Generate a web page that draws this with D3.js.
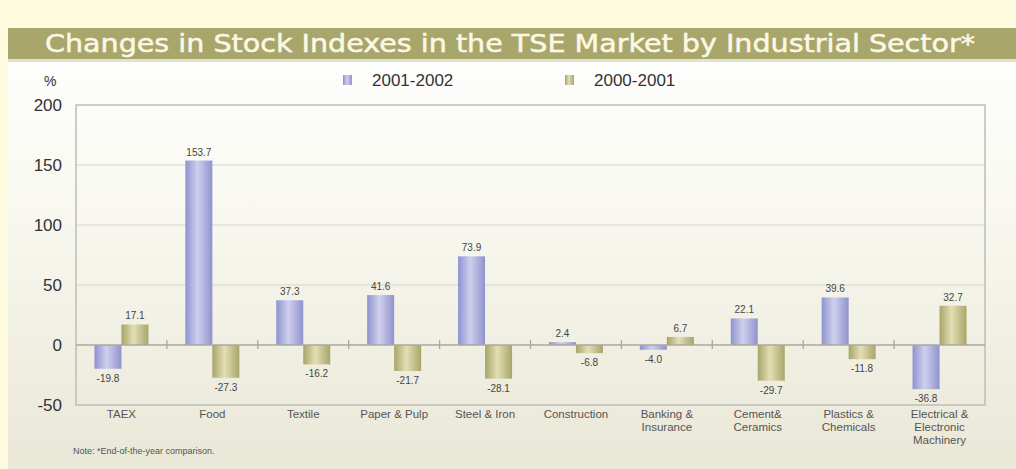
<!DOCTYPE html>
<html><head><meta charset="utf-8">
<script src="https://cdn.jsdelivr.net/npm/d3@7"></script>
<style>
body{margin:0;background:#fffbdf;}
svg{display:block;}
</style></head>
<body>
<svg id="chart" width="1016" height="469"></svg>
<script>
const categories = [["TAEX"],["Food"],["Textile"],["Paper & Pulp"],["Steel & Iron"],["Construction"],["Banking &","Insurance"],["Cement&","Ceramics"],["Plastics &","Chemicals"],["Electrical &","Electronic","Machinery"]];
const series2001_2002 = [-19.8,153.7,37.3,41.6,73.9,2.4,-4.0,22.1,39.6,-36.8];
const series2000_2001 = [17.1,-27.3,-16.2,-21.7,-28.1,-6.8,6.7,-29.7,-11.8,32.7];
const seriesNames = ["2001-2002","2000-2001"];
const yTicks = [-50,0,50,100,150,200];

const svg = d3.select("#chart");
const defs = svg.append("defs");

const pg = defs.append("linearGradient").attr("id","panel").attr("x1",0).attr("y1",0).attr("x2",0).attr("y2",1);
pg.append("stop").attr("offset","0%").attr("stop-color","#ffffff");
pg.append("stop").attr("offset","45%").attr("stop-color","#f8f7ef");
pg.append("stop").attr("offset","100%").attr("stop-color","#e9e7d6");

const bg = defs.append("linearGradient").attr("id","gBlue").attr("x1",0).attr("x2",1).attr("y1",0).attr("y2",0);
bg.append("stop").attr("offset","0%").attr("stop-color","#8e92cf");
bg.append("stop").attr("offset","45%").attr("stop-color","#cfd0ee");
bg.append("stop").attr("offset","100%").attr("stop-color","#8f93cc");
const og = defs.append("linearGradient").attr("id","gOlive").attr("x1",0).attr("x2",1).attr("y1",0).attr("y2",0);
og.append("stop").attr("offset","0%").attr("stop-color","#a8a468");
og.append("stop").attr("offset","45%").attr("stop-color","#e2dfb5");
og.append("stop").attr("offset","100%").attr("stop-color","#a9a56a");

svg.append("rect").attr("x",8).attr("y",28).attr("width",1008).attr("height",441).attr("fill","url(#panel)");
svg.append("rect").attr("x",8).attr("y",28).attr("width",1008).attr("height",31).attr("fill","#a9a66c");
svg.append("rect").attr("x",8).attr("y",59).attr("width",1008).attr("height",3).attr("fill","#e4e2cc");
svg.append("text").attr("x",45).attr("y",52)
  .attr("textLength",930).attr("lengthAdjust","spacingAndGlyphs")
  .attr("font-family","'DejaVu Sans', sans-serif").attr("font-size",24).attr("font-weight","normal")
  .attr("fill","#fbf8e4").attr("stroke","#fbf8e4").attr("stroke-width",0.5)
  .text("Changes in Stock Indexes  in the TSE Market by Industrial Sector*");

const margin = {left:76, right:985, top:105, bottom:405};
const x = d3.scaleBand().domain(d3.range(categories.length)).range([margin.left, margin.right]).paddingInner(0).paddingOuter(0);
const y = d3.scaleLinear().domain([-50,200]).range([margin.bottom, margin.top]);

const g = svg.append("g");
g.selectAll("line.grid").data(yTicks.filter(d=>d!==0 && d!==-50 && d!==200)).enter().append("line")
  .attr("x1",margin.left).attr("x2",margin.right).attr("y1",d=>y(d)).attr("y2",d=>y(d))
  .attr("stroke","#d6d6d0").attr("stroke-width",1.2);
g.append("rect").attr("x",margin.left).attr("y",margin.top).attr("width",margin.right-margin.left).attr("height",margin.bottom-margin.top)
  .attr("fill","none").attr("stroke","#bdbdb8").attr("stroke-width",1.5);

const yAxis = d3.axisLeft(y).tickValues(yTicks).tickSize(0).tickPadding(14).tickFormat(d=>String(d));
const ya = svg.append("g").attr("transform",`translate(${margin.left},0)`).call(yAxis);
ya.select(".domain").remove();
ya.selectAll("text").attr("font-family","'Liberation Sans', Arial, sans-serif").attr("font-size",17).attr("fill","#333");

svg.append("text").attr("x",44).attr("y",86).attr("font-family","'Liberation Sans', Arial, sans-serif").attr("font-size",14).attr("fill","#333").text("%");

const bw = 27;
const data = [];
categories.forEach((c,i)=>{
  data.push({i, s:0, v:series2001_2002[i]});
  data.push({i, s:1, v:series2000_2001[i]});
});
g.selectAll("rect.bar").data(data).enter().append("rect")
  .attr("x",d=>x(d.i)+x.bandwidth()/2 + (d.s===0?-bw:0))
  .attr("width",bw)
  .attr("y",d=>y(Math.max(0,d.v)))
  .attr("height",d=>Math.abs(y(d.v)-y(0)))
  .attr("fill",d=>d.s===0?"url(#gBlue)":"url(#gOlive)");

g.append("line").attr("x1",margin.left).attr("x2",margin.right).attr("y1",y(0)).attr("y2",y(0)).attr("stroke","#a8a8a0").attr("stroke-width",1.3);
g.selectAll("line.ctick").data(d3.range(1,categories.length)).enter().append("line")
  .attr("x1",d=>x(d)).attr("x2",d=>x(d)).attr("y1",y(0)-5).attr("y2",y(0)+4).attr("stroke","#a8a8a0").attr("stroke-width",1.3);

g.selectAll("text.val").data(data).enter().append("text")
  .attr("x",d=>x(d.i)+x.bandwidth()/2 + (d.s===0?-bw/2:bw/2))
  .attr("y",d=>d.v>=0? y(d.v)-5 : y(d.v)+13)
  .attr("text-anchor","middle").attr("font-family","'Liberation Sans', Arial, sans-serif").attr("font-size",10).attr("fill","#444")
  .text(d=>d.v.toFixed(1));

const cl = svg.append("g").selectAll("text").data(categories).enter().append("text")
  .attr("x",(d,i)=>x(i)+x.bandwidth()/2).attr("y",418).attr("text-anchor","middle")
  .attr("font-family","'Liberation Sans', Arial, sans-serif").attr("font-size",11.5).attr("fill","#555");
cl.selectAll("tspan").data(d=>d).enter().append("tspan")
  .attr("x",function(){return this.parentNode.getAttribute("x");}).attr("dy",(d,j)=>j===0?0:13).text(d=>d);

const legend = svg.append("g");
const lx = [343, 565];
seriesNames.forEach((n,k)=>{
  legend.append("rect").attr("x",lx[k]).attr("y",75).attr("width",9).attr("height",10).attr("fill",k===0?"url(#gBlue)":"url(#gOlive)");
  legend.append("text").attr("x",lx[k]+29).attr("y",86).attr("font-family","'Liberation Sans', Arial, sans-serif").attr("font-size",17).attr("fill","#333").text(n);
});

svg.append("text").attr("x",73).attr("y",454).attr("font-family","'Liberation Sans', Arial, sans-serif").attr("font-size",9).attr("fill","#555").text("Note: *End-of-the-year comparison.");
</script>
</body></html>
